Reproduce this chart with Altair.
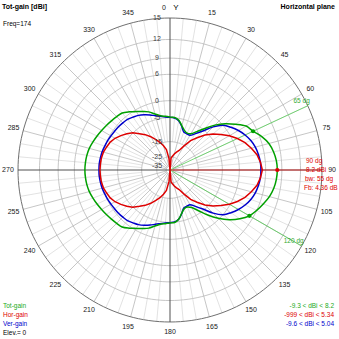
import altair as alt
import pandas as pd

# ---------------- data ----------------
angles = list(range(0, 365, 5))

tot_gain = [-4.8, -4.9, -5.6, -7.3, -8.7, -9.3, -8.8, -6.9, -4.4, -1.6, 0.7, 2.6, 4.4, 5.2, 6.4, 7.3, 7.8, 8.1, 8.2,
            8.1, 7.85, 7.4, 6.7, 6.0, 5.2, 3.8, 2.0, -0.3, -3.0, -5.9, -8.2, -9.2, -9.0, -7.6, -5.8, -4.9, -4.8,
            -4.5, -4.1, -3.2, -2.05, -1.3, -0.5, 0.45, 1.3, 1.55, 1.8, 2.1, 2.4, 2.75, 3.1, 3.45, 3.65, 3.75,
            3.8, 3.75, 3.65, 3.45, 3.1, 2.75, 2.4, 2.1, 1.8, 1.55, 1.3, 0.45, -0.5, -1.3, -2.05, -3.2, -4.1, -4.5, -4.8]

hor_gain = [-999, -26, -24.4, -22.4, -20.6, -18.9, -15.4, -11.3, -8.7, -6.0, -3.8, -2.0, -0.2, 1.3, 2.6, 3.6, 4.5, 5.0, 5.34,
            5.0, 4.5, 3.6, 2.6, 1.3, -0.2, -2.0, -3.8, -6.0, -8.7, -11.3, -15.4, -18.9, -20.6, -22.4, -24.4, -26, -999,
            -26.6, -19.5, -16.8, -14.4, -12.4, -10.2, -8.3, -6.7, -4.9, -3.7, -2.6, -1.6, -0.9, -0.5, -0.1, 0.1, 0.15,
            0.2, 0.15, 0.1, -0.1, -0.5, -0.9, -1.6, -2.6, -3.7, -4.9, -6.7, -8.3, -10.2, -12.4, -14.4, -16.8, -19.5, -26.6, -999]

ver_gain = [-4.9, -5.05, -5.8, -7.5, -9.4, -9.6, -9.55, -7.8, -5.45, -2.3, 0.05, 1.3, 2.4, 3.3, 4.0, 4.5, 4.8, 5.0, 5.04,
            5.0, 4.8, 4.5, 4.0, 3.3, 2.4, 1.3, 0.05, -2.3, -5.45, -7.8, -9.55, -9.6, -9.4, -7.5, -5.8, -5.05, -4.9,
            -4.7, -4.3, -3.75, -3.0, -2.3, -1.7, -1.3, -0.85, -0.7, -0.55, -0.45, -0.3, -0.1, 0.05, 0.25, 0.35, 0.45,
            0.45, 0.45, 0.35, 0.25, 0.05, -0.1, -0.3, -0.45, -0.55, -0.7, -0.85, -1.3, -1.7, -2.3, -3.0, -3.75, -4.3, -4.7, -4.9]

ring_db = [15, 12, 9, 6, 0, -5, -15, -25, -35]
ring_text = ["15", "12", "9", "6", "0", "-5", "-15", "-25", "-35"]
angle_ticks = list(range(15, 360, 15))

marker_angles = [65, 120]          # -3 dB points
beam_angle = 90
dot_angles = [65, 120, 90]
dot_db = [5.2, 5.2, 8.2]

GREEN = "#00a000"
RED = "#dd0000"
BLUE = "#0000cc"
FONT = "Liberation Sans"

# ---------------- polar helpers ----------------
R_EXPR = "max(0, (81.3*exp(0.04678*datum.db) - 12) / 152)"


def polar(ch):
    return (ch.transform_calculate(r=R_EXPR)
              .transform_calculate(px="datum.r*sin(datum.ang*PI/180)")
              .transform_calculate(py="datum.r*cos(datum.ang*PI/180)"))


SC = alt.Scale(domain=[-1, 1], nice=False, zero=False)
X = alt.X("px:Q", scale=SC, axis=None)
Y = alt.Y("py:Q", scale=SC, axis=None)

# ---------------- grid ----------------
ring_rows = []
for lvl in ring_db:
    for a in range(0, 361, 2):
        ring_rows.append({"ring": lvl, "ang": a, "db": lvl})
rings = pd.DataFrame(ring_rows)

inner_rings = polar(alt.Chart(rings[rings.ring != 15]).mark_line(color="#b8b8b8", strokeWidth=0.8)).encode(
    x=X, y=Y, detail="ring:N", order="ang:Q")
outer_ring = polar(alt.Chart(rings[rings.ring == 15]).mark_line(color="#707070", strokeWidth=1)).encode(
    x=X, y=Y, detail="ring:N", order="ang:Q")

major_rows, minor_rows = [], []
for a in range(0, 360, 5):
    if a % 90 == 0:
        continue
    if a % 15 == 0:
        major_rows += [{"sp": a, "ang": a, "db": -35, "k": 0}, {"sp": a, "ang": a, "db": 15, "k": 1}]
    else:
        minor_rows += [{"sp": a, "ang": a, "db": -15, "k": 0}, {"sp": a, "ang": a, "db": 15, "k": 1}]

minor_sp = polar(alt.Chart(pd.DataFrame(minor_rows)).mark_line(color="#dadada", strokeWidth=0.8)).encode(
    x=X, y=Y, detail="sp:N", order="k:Q")
major_sp = polar(alt.Chart(pd.DataFrame(major_rows)).mark_line(color="#b8b8b8", strokeWidth=0.8)).encode(
    x=X, y=Y, detail="sp:N", order="k:Q")

axes_df = pd.DataFrame({"sp": [0, 0, 1, 1], "ang": [0, 180, 90, 270], "db": [15, 15, 15, 15], "k": [0, 1, 0, 1]})
main_axes = polar(alt.Chart(axes_df).mark_line(color="#505050", strokeWidth=1)).encode(
    x=X, y=Y, detail="sp:N", order="k:Q")

# ---------------- ring labels ----------------
rl_df = pd.DataFrame({"ang": [0] * len(ring_db), "db": ring_db, "t": ring_text})
ring_labels = polar(alt.Chart(rl_df).mark_text(font=FONT, fontSize=7, color="#404040", dx=-13,
                                               align="center", baseline="middle")).encode(
    x=X, y=Y, text="t:N")

# ---------------- angle labels ----------------
al_df = pd.DataFrame({"ang": angle_ticks, "t": [str(a) for a in angle_ticks]})
angle_labels = (alt.Chart(al_df).mark_text(font=FONT, fontSize=7, color="#202020", align="center", baseline="middle")
                .transform_calculate(px="1.066*sin(datum.ang*PI/180)")
                .transform_calculate(py="1.066*cos(datum.ang*PI/180)")
                .encode(x=X, y=Y, text="t:N"))
zero_df = pd.DataFrame({"ang": [0, 0], "t": ["0", "Y"]})
zero_lbl = (alt.Chart(zero_df[zero_df.t == "0"]).mark_text(font=FONT, fontSize=7, color="#202020", dx=-6,
                                                           baseline="middle")
            .transform_calculate(px="0").transform_calculate(py="1.066")
            .encode(x=X, y=Y, text="t:N"))
y_lbl = (alt.Chart(zero_df[zero_df.t == "Y"]).mark_text(font=FONT, fontSize=8, color="#000000", dx=6,
                                                        baseline="middle")
         .transform_calculate(px="0").transform_calculate(py="1.066")
         .encode(x=X, y=Y, text="t:N"))

# ---------------- marker lines ----------------
mk_rows = []
for a in marker_angles:
    mk_rows += [{"m": a, "ang": a, "db": -999, "k": 0}, {"m": a, "ang": a, "db": 15, "k": 1}]
marker_lines = polar(alt.Chart(pd.DataFrame(mk_rows)).mark_line(color="#55cc55", strokeWidth=0.8)).encode(
    x=X, y=Y, detail="m:N", order="k:Q")
beam_df = pd.DataFrame({"ang": [beam_angle, beam_angle], "db": [-999, 15], "k": [0, 1]})
beam_line = polar(alt.Chart(beam_df).mark_line(color="#ee2222", strokeWidth=0.8)).encode(
    x=X, y=Y, order="k:Q")
mk_lbl_df = pd.DataFrame({"ang": marker_angles, "db": [15, 15], "t": [f"{a} dg" for a in marker_angles]})
marker_labels = polar(alt.Chart(mk_lbl_df).mark_text(font=FONT, fontSize=6.5, color="#33aa33", align="right",
                                                     dx=2, dy=-5)).encode(x=X, y=Y, text="t:N")

# ---------------- pattern curves ----------------
curve_df = pd.concat([
    pd.DataFrame({"series": s, "ang": angles, "db": v, "i": range(len(angles))})
    for s, v in [("Ver", ver_gain), ("Tot", tot_gain), ("Hor", hor_gain)]
])


def curve(name, color, interp="linear"):
    return polar(alt.Chart(curve_df[curve_df.series == name]).mark_line(
        color=color, strokeWidth=1.5, interpolate=interp)).encode(x=X, y=Y, order="i:Q")


dots_df = pd.DataFrame({"ang": dot_angles, "db": dot_db, "c": [GREEN, GREEN, RED]})
dots = polar(alt.Chart(dots_df).mark_point(filled=True, size=18, opacity=1)).encode(
    x=X, y=Y, color=alt.Color("c:N", scale=None))

# ---------------- free texts ----------------
def px(v):
    return v - 18


txt_rows = [
    ("Freq=174", 3, 24, "#000000", "left"),
    ("Tot-gain", 3, 306, "#22aa22", "left"),
    ("Hor-gain", 3, 315, RED, "left"),
    ("Ver-gain", 3, 324, BLUE, "left"),
    ("Elev.= 0", 3, 333, "#000000", "left"),
    ("-9.3 < dBi < 8.2", 334, 306, "#22aa22", "right"),
    ("-999 < dBi < 5.34", 334, 315, RED, "right"),
    ("-9.6 < dBi < 5.04", 334, 324, BLUE, "right"),
    ("90 dg", 306, 161, RED, "left"),
    ("8.2 dBi", 306, 170, RED, "left"),
    ("bw: 55 dg", 305, 179, RED, "left"),
    ("Fb: 4.36 dB", 304, 188, RED, "left"),
]
texts = []
for t, x, y, c, al in txt_rows:
    texts.append(alt.Chart(pd.DataFrame({"t": [t]})).mark_text(
        font=FONT, fontSize=6.5, color=c, align=al, baseline="middle").encode(
        x=alt.value(px(x)), y=alt.value(px(y)), text="t:N"))

titles = [
    alt.Chart(pd.DataFrame({"t": ["Tot-gain [dBi]"]})).mark_text(
        font=FONT, fontSize=7, fontWeight="bold", color="#000000", align="left", baseline="middle").encode(
        x=alt.value(px(2)), y=alt.value(px(7)), text="t:N"),
    alt.Chart(pd.DataFrame({"t": ["Horizontal plane"]})).mark_text(
        font=FONT, fontSize=7, fontWeight="bold", color="#000000", align="right", baseline="middle").encode(
        x=alt.value(px(335)), y=alt.value(px(7)), text="t:N"),
]

chart = alt.layer(
    minor_sp, major_sp, inner_rings, outer_ring, main_axes,
    marker_lines, beam_line,
    curve("Ver", BLUE, "catmull-rom"), curve("Tot", GREEN, "catmull-rom"), curve("Hor", RED),
    dots, ring_labels, angle_labels, zero_lbl, y_lbl, marker_labels,
    *texts, *titles
).properties(
    width=304, height=304,
    autosize=alt.AutoSizeParams(type="none"),
    padding={"left": 18, "top": 18, "right": 17, "bottom": 17},
    background="white",
).configure_view(strokeWidth=0)

chart.save("out.html", embed_options={"renderer": "svg", "actions": False})
